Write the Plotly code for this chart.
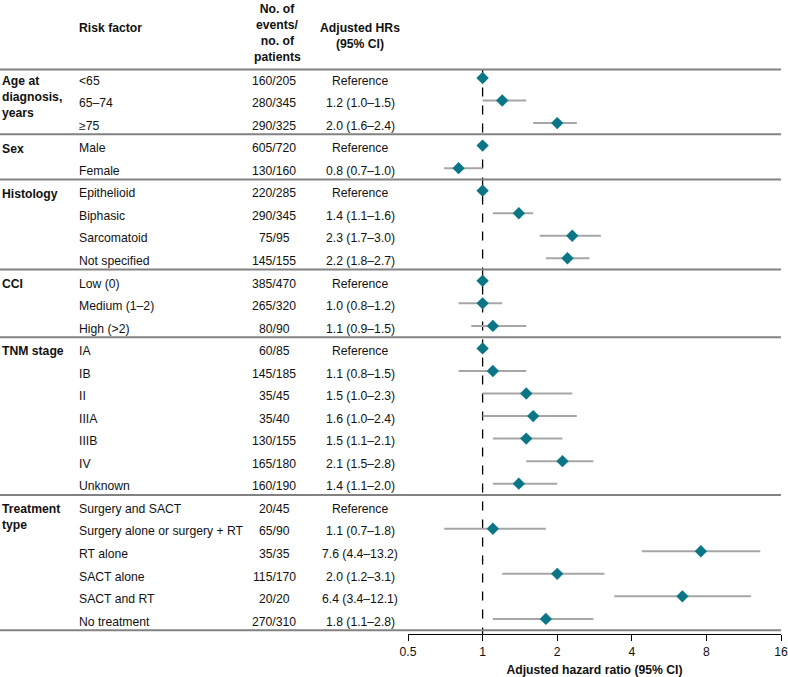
import plotly.graph_objects as go

# data
groups = [["Age at", "diagnosis,", "years"], ["Sex"], ["Histology"], ["CCI"], ["TNM stage"], ["Treatment", "type"]]
group_sizes = [3, 2, 4, 3, 7, 6]
subgroups = ["<65", "65–74", "≥75",
             "Male", "Female",
             "Epithelioid", "Biphasic", "Sarcomatoid", "Not specified",
             "Low (0)", "Medium (1–2)", "High (>2)",
             "IA", "IB", "II", "IIIA", "IIIB", "IV", "Unknown",
             "Surgery and SACT", "Surgery alone or surgery + RT", "RT alone", "SACT alone", "SACT and RT", "No treatment"]
events = ["160/205", "280/345", "290/325",
          "605/720", "130/160",
          "220/285", "290/345", "75/95", "145/155",
          "385/470", "265/320", "80/90",
          "60/85", "145/185", "35/45", "35/40", "130/155", "165/180", "160/190",
          "20/45", "65/90", "35/35", "115/170", "20/20", "270/310"]
hr = [1.0, 1.2, 2.0,
      1.0, 0.8,
      1.0, 1.4, 2.3, 2.2,
      1.0, 1.0, 1.1,
      1.0, 1.1, 1.5, 1.6, 1.5, 2.1, 1.4,
      None, 1.1, 7.6, 2.0, 6.4, 1.8]
lo = [None, 1.0, 1.6,
      None, 0.7,
      None, 1.1, 1.7, 1.8,
      None, 0.8, 0.9,
      None, 0.8, 1.0, 1.0, 1.1, 1.5, 1.1,
      None, 0.7, 4.4, 1.2, 3.4, 1.1]
hi = [None, 1.5, 2.4,
      None, 1.0,
      None, 1.6, 3.0, 2.7,
      None, 1.2, 1.5,
      None, 1.5, 2.3, 2.4, 2.1, 2.8, 2.0,
      None, 1.8, 13.2, 3.1, 12.1, 2.8]
ticks = [0.5, 1, 2, 4, 8, 16]

FONT = "Liberation Sans, Arial, sans-serif"
FS = 12.2
TEXT = "#111111"
rows = list(range(1, len(subgroups) + 1))

fig = go.Figure()

# CI lines
lx, ly = [], []
for r, a, b in zip(rows, lo, hi):
    if a is None:
        continue
    lx += [a, b, None]
    ly += [r, r, None]
fig.add_trace(go.Scatter(x=lx, y=ly, mode="lines", line=dict(color="#a6a6a6", width=2),
                         hoverinfo="skip", showlegend=False))

# point estimates
fig.add_trace(go.Scatter(x=hr, y=rows, mode="markers",
                         marker=dict(symbol="diamond", size=9.5, color="#0b7786"),
                         showlegend=False))

# reference line at HR = 1
fig.add_shape(type="line", xref="x", yref="y", x0=1, x1=1, y0=0.62, y1=25.67,
              line=dict(color="black", width=1.3, dash="dash"), layer="below")

# table text (sits a touch below the marker centre, as in the source)
dy = 0.12
ann = []
for r, s, e, h, a, b in zip(rows, subgroups, events, hr, lo, hi):
    ann.append(dict(x=77 / 788, y=r + dy, text=s, xanchor="left"))
    ann.append(dict(x=274 / 788, y=r + dy, text=e, xanchor="center"))
    txt = "Reference" if a is None else f"{h:.1f} ({a:.1f}–{b:.1f})"
    ann.append(dict(x=360 / 788, y=r + dy, text=txt, xanchor="center"))

# group labels and separators
start = 1
sep = [0.62]
for g, n in zip(groups, group_sizes):
    ann.append(dict(x=0, y=start - 0.27, text="<b>" + "<br>".join(g) + "</b>",
                    xanchor="left", yanchor="top", align="left"))
    start += n
    sep.append(start - 0.5)
for s in sep:
    fig.add_shape(type="line", xref="paper", yref="y", x0=0, x1=781 / 788, y0=s, y1=s,
                  line=dict(color="#828282", width=2))

# header
hdr = [(77, -1.22, "Risk factor", "left"),
       (277, -1.72, "No. of<br>events/", "center"),
       (277, -0.3, "no. of<br>patients", "center"),
       (360, -0.87, "Adjusted HRs<br>(95% CI)", "center")]
for hx, hy, ht, anc in hdr:
    ann.append(dict(x=hx / 788, y=hy, text="<b>" + ht + "</b>", xanchor=anc))

for a in ann:
    a.update(xref="paper", yref="y", showarrow=False,
             font=dict(family=FONT, size=FS, color=TEXT))
    a.setdefault("yanchor", "middle")
fig.update_layout(annotations=ann)

fig.update_layout(
    width=788, height=677,
    margin=dict(l=0, r=0, t=0, b=43, autoexpand=False),
    paper_bgcolor="white", plot_bgcolor="white",
    font=dict(family=FONT, size=FS, color=TEXT),
    xaxis=dict(type="log", domain=[408 / 788, 781 / 788],
               range=[-0.30103, 1.20412],
               tickvals=ticks, ticktext=[str(t) for t in ticks],
               showgrid=False, zeroline=False, automargin=False,
               showline=True, linecolor="black", linewidth=1,
               ticks="outside", ticklen=6, tickcolor="black",
               tickfont=dict(size=FS),
               title=dict(text="<b>Adjusted hazard ratio (95% CI)</b>", standoff=8,
                          font=dict(size=FS))),
    yaxis=dict(range=[25.67, -2.46], showgrid=False, zeroline=False, automargin=False,
               showticklabels=False, showline=False),
)

fig.write_html("out.html", config={"displayModeBar": False},
               post_script="document.body.style.margin='0';")
